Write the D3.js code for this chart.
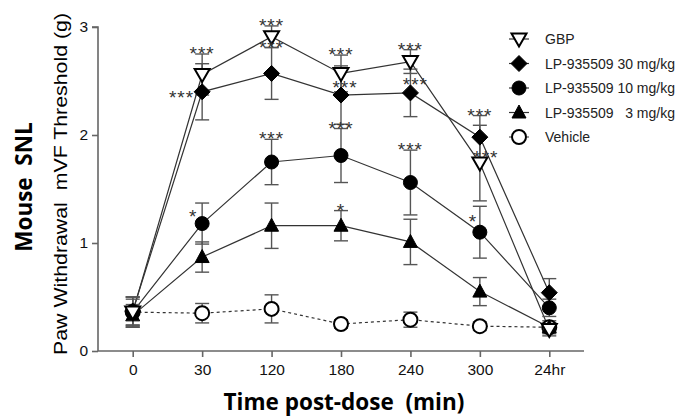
<!DOCTYPE html>
<html>
<head>
<meta charset="utf-8">
<script src="https://cdn.jsdelivr.net/npm/d3@7"></script>
<style>
  body { margin: 0; background: #fff; }
  svg { display: block; }
  text { font-family: 'Liberation Sans', Arial, sans-serif; }
</style>
</head>
<body>
<div id="chart"></div>
<script>
// x categories (time post-dose)
var timeLabels = ['0', '30', '120', '180', '240', '300', '24hr']

// mean threshold (g) and SEM per group
var gbpMean = [0.36, 2.56, 2.91, 2.57, 2.68, 1.74, 0.20]
var gbpErr = [0.14, 0.19, 0.10, 0.17, 0.11, 0.35, 0.06]
var lp30Mean = [0.37, 2.40, 2.57, 2.37, 2.39, 1.98, 0.54]
var lp30Err = [0.13, 0.26, 0.24, 0.27, 0.22, 0.20, 0.13]
var lp10Mean = [0.36, 1.18, 1.75, 1.81, 1.56, 1.10, 0.40]
var lp10Err = [0.14, 0.19, 0.21, 0.25, 0.30, 0.24, 0.08]
var lp3Mean = [0.33, 0.87, 1.16, 1.16, 1.01, 0.55, 0.22]
var lp3Err = [0.10, 0.14, 0.21, 0.14, 0.21, 0.13, 0.06]
var vehMean = [0.36, 0.35, 0.39, 0.25, 0.29, 0.23, 0.22]
var vehErr = [0.12, 0.09, 0.13, 0.04, 0.07, 0.04, 0.04]

// significance marks per time point
var gbpStars = ['', '***', '***', '***', '***', '***', '']
var lp30Stars = ['', '***', '***', '***', '***', '***', '']
var lp10Stars = ['', '*', '***', '***', '***', '*', '']
var lp3Stars = ['', '', '', '*', '', '', '']

var legendLabels = ['GBP', 'LP-935509 30 mg/kg', 'LP-935509 10 mg/kg', 'LP-935509\u00a0\u00a0 3 mg/kg', 'Vehicle']

var yTicks = [0, 1, 2, 3]

var series = [
  { name: legendLabels[0], mean: gbpMean, err: gbpErr, stars: gbpStars, shape: 'tri-down', fill: '#fff', dash: null },
  { name: legendLabels[1], mean: lp30Mean, err: lp30Err, stars: lp30Stars, shape: 'diamond', fill: '#000', dash: null },
  { name: legendLabels[2], mean: lp10Mean, err: lp10Err, stars: lp10Stars, shape: 'circle', fill: '#000', dash: null },
  { name: legendLabels[3], mean: lp3Mean, err: lp3Err, stars: lp3Stars, shape: 'tri-up', fill: '#000', dash: null },
  { name: legendLabels[4], mean: vehMean, err: vehErr, stars: null, shape: 'circle', fill: '#fff', dash: '3,3' }
]

var width = 677
var height = 418

var svg = d3.select('#chart')
  .append('svg')
  .attr('width', width)
  .attr('height', height)

var x = d3.scaleLinear().domain([-0.5, timeLabels.length - 0.5]).range([98, 584])
var y = d3.scaleLinear().domain([0, 3]).range([351, 27])

// markers drawn as paths centred on 0,0
function markerPath(shape) {
  if (shape === 'diamond') return 'M0,-8L8,0L0,8L-8,0Z'
  if (shape === 'tri-up') return 'M0,-7.5L7,5.5L-7,5.5Z'
  if (shape === 'tri-down') return 'M0,7.5L7.5,-5.5L-7.5,-5.5Z'
  return d3.arc()({ innerRadius: 0, outerRadius: 7, startAngle: 0, endAngle: 2 * Math.PI })
}

// axes
var yAxis = svg.append('g')
  .attr('transform', 'translate(98,0)')
  .call(d3.axisLeft(y).tickValues(yTicks).tickFormat(d3.format('d')).tickSize(6).tickPadding(4))
var xAxis = svg.append('g')
  .attr('transform', 'translate(0,351)')
  .call(d3.axisBottom(x).tickValues(d3.range(timeLabels.length)).tickFormat(function (i) { return timeLabels[i] }).tickSize(6).tickPadding(7))

svg.selectAll('.domain').attr('stroke', '#666').attr('stroke-width', 1.6)
svg.selectAll('.tick line').attr('stroke', '#666').attr('stroke-width', 1.6)
svg.selectAll('.tick text').attr('fill', '#111')
  .style('font-family', "'Liberation Sans', Arial, sans-serif").style('font-size', '15.5px')
yAxis.select('.domain').attr('d', 'M-6,' + y(3) + 'H0V' + y(0))
xAxis.select('.domain').attr('d', 'M98,0H584')

// titles
svg.append('text')
  .attr('transform', 'translate(32,187) rotate(-90)')
  .attr('text-anchor', 'middle')
  .style('font-family', "'Open Sans', sans-serif")
  .style('font-weight', 'bold')
  .style('font-size', '22.5px')
  .text('Mouse\u00a0\u00a0SNL')
svg.append('text')
  .attr('transform', 'translate(67,184) rotate(-90)')
  .attr('text-anchor', 'middle')
  .style('font-size', '19px')
  .attr('textLength', 342)
  .attr('lengthAdjust', 'spacingAndGlyphs')
  .text('Paw Withdrawal\u00a0\u00a0mVF Threshold (g)')
svg.append('text')
  .attr('x', 344)
  .attr('y', 410)
  .attr('text-anchor', 'middle')
  .style('font-family', "'Open Sans', sans-serif")
  .style('font-weight', 'bold')
  .style('font-size', '22.5px')
  .text('Time post-dose\u00a0\u00a0(min)')

// lines
var line = d3.line().x(function (d, i) { return x(i) }).y(function (d) { return y(d) })
series.forEach(function (s) {
  svg.append('path')
    .datum(s.mean)
    .attr('d', line)
    .attr('fill', 'none')
    .attr('stroke', '#333')
    .attr('stroke-width', 1.2)
    .attr('stroke-dasharray', s.dash)
})

// error bars
series.forEach(function (s) {
  var g = svg.append('g').attr('stroke', '#555').attr('stroke-width', 1.4)
  s.mean.forEach(function (m, i) {
    var cx = x(i)
    var top = y(m + s.err[i])
    var bot = y(m - s.err[i])
    g.append('line').attr('x1', cx).attr('x2', cx).attr('y1', top).attr('y2', bot)
    g.append('line').attr('x1', cx - 7).attr('x2', cx + 7).attr('y1', top).attr('y2', top)
    g.append('line').attr('x1', cx - 7).attr('x2', cx + 7).attr('y1', bot).attr('y2', bot)
  })
})

// markers (vehicle drawn last, on top)
series.slice().reverse().forEach(function (s) {
  svg.selectAll(null)
    .data(s.mean)
    .enter()
    .append('path')
    .attr('transform', function (d, i) { return 'translate(' + x(i) + ',' + y(d) + ')' })
    .attr('d', markerPath(s.shape))
    .attr('fill', s.fill)
    .attr('stroke', '#000')
    .attr('stroke-width', s.fill === '#fff' ? 2 : 1)
})

// significance asterisks: above the upper error cap, except a few that the
// original places beside the marker
series.forEach(function (s, si) {
  if (!s.stars) return
  s.stars.forEach(function (t, i) {
    if (!t) return
    var tx = x(i)
    var ty = y(s.mean[i] + s.err[i]) + 6
    var anchor = 'middle'
    if (si === 1 && i === 1) { tx = x(i) - 8; ty = y(s.mean[i]) + 12; anchor = 'end' }
    if (si === 1 && i === 3) { tx = x(i) + 4; ty = y(s.mean[i]) - 1 }
    if (si === 1 && i === 4) { tx = x(i) + 5; ty = y(s.mean[i]) - 2 }
    if (si === 2 && i === 1) { tx = x(i) - 9; ty = y(s.mean[i]) - 1 }
    if (si === 2 && i === 5) { tx = x(i) - 7; ty = y(s.mean[i]) - 4 }
    if (si === 0 && i === 5) { tx = x(i) + 6; ty = y(s.mean[i]) + 1 }
    svg.append('text')
      .attr('x', tx)
      .attr('y', ty)
      .attr('text-anchor', anchor)
      .attr('fill', '#333')
      .style('font-size', '19px')
      .style('letter-spacing', '1px')
      .text(t)
  })
})

// legend
var legend = svg.append('g').attr('transform', 'translate(519,39)')
series.forEach(function (s, i) {
  var row = legend.append('g').attr('transform', 'translate(0,' + (i * 24.5) + ')')
  row.append('line').attr('x1', -10).attr('x2', 10).attr('y1', 0).attr('y2', 0)
    .attr('stroke', '#333').attr('stroke-width', 1.2).attr('stroke-dasharray', s.dash)
  row.append('path').attr('d', markerPath(s.shape))
    .attr('fill', s.fill).attr('stroke', '#000').attr('stroke-width', s.fill === '#fff' ? 2 : 1)
  row.append('text').attr('x', 26).attr('y', 5).attr('fill', '#222').style('font-size', '14px').text(s.name)
})
</script>
</body>
</html>
